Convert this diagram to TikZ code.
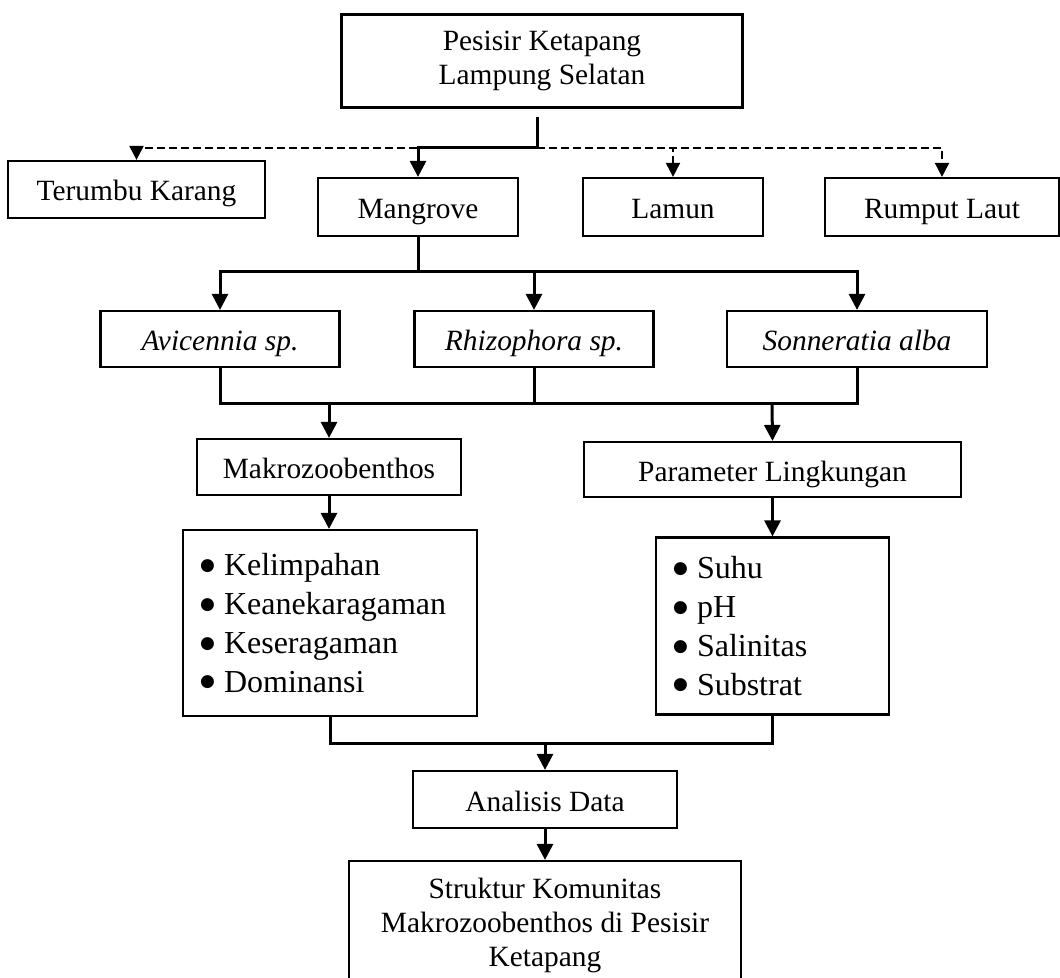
\documentclass[tikz,border=0pt]{standalone}
\usepackage{fontspec}
\setmainfont{Liberation Serif}
\newfontfamily\dejavu{DejaVu Sans}
\usetikzlibrary{arrows.meta, positioning, calc}
\newcommand{\itm}[1]{\makebox[12pt][l]{\raisebox{2.6pt}{\dejavu\fontsize{8.5}{8.5}\selectfont ●}}#1}

\begin{document}
\begin{tikzpicture}[x=0.5pt, y=-0.5pt,
      box/.style={draw, line width=1.1pt, inner sep=0pt, align=center,
                  font=\fontsize{14.7}{17}\selectfont},
      tag/.style={box, text height=12pt, text depth=0.5pt},
      listbox/.style={box, align=left, inner xsep=8.5pt,
                      font=\fontsize{16}{19.4}\selectfont},
      link/.style={line width=1.5pt},
      arrowlink/.style={link, -{Triangle[length=8pt, width=8pt]}},
      dashlink/.style={line width=1pt, dash pattern=on 4pt off 2pt,
                       -{Triangle[length=7pt, width=7pt]}}]
    \useasboundingbox (0,0) rectangle (1060,978);
    \clip (0,0) rectangle (1060,978);
    \node[box, minimum width=200.5pt, minimum height=46.5pt] (top) at (542,61)
      {Pesisir Ketapang\\Lampung Selatan};
    \node[tag, minimum width=128.5pt, minimum height=28.5pt] (terumbu) at (136.5,189.5) {Terumbu Karang};
    \node[tag, minimum width=100pt, minimum height=29pt] (mangrove) at (418,207) {Mangrove};
    \node[tag, minimum width=90pt, minimum height=29pt] (lamun) at (673,207) {Lamun};
    \node[tag, minimum width=117pt, minimum height=29pt] (rumput) at (942,207) {Rumput Laut};
    \node[tag, minimum width=119.5pt, minimum height=28pt] (avicennia) at (220,339) {\itshape Avicennia sp.};
    \node[tag, minimum width=119.5pt, minimum height=28pt] (rhizophora) at (534,339) {\itshape Rhizophora sp.};
    \node[tag, minimum width=130pt, minimum height=28pt] (sonneratia) at (857,339) {\itshape Sonneratia alba};
    \node[tag, minimum width=132pt, minimum height=28pt] (makro) at (329,467) {Makrozoobenthos};
    \node[tag, minimum width=188.5pt, minimum height=27.5pt] (param) at (772.5,469.5) {Parameter Lingkungan};
    \node[listbox, minimum width=147pt, minimum height=93pt, text width=130pt] (indeks) at (330,623)
      {\itm{Kelimpahan}\\\itm{Keanekaragaman}\\\itm{Keseragaman}\\\itm{Dominansi}};
    \node[listbox, minimum width=116.5pt, minimum height=88.5pt, text width=99.5pt] (fisika) at (772.5,626)
      {\itm{Suhu}\\\itm{pH}\\\itm{Salinitas}\\\itm{Substrat}};
    \node[tag, minimum width=132pt, minimum height=28.5pt] (analisis) at (545,799.5) {Analisis Data};
    \node[box, minimum width=196pt, minimum height=64pt] (hasil) at (545,925)
      {Struktur Komunitas\\Makrozoobenthos di Pesisir\\Ketapang};
    \coordinate (stem) at (537,117);
    \coordinate (split) at (537,148);
    \coordinate (msplit) at (418,272);
    \coordinate (mergeL) at (329,404);
    \coordinate (mergeR) at (772,404);
    \coordinate (lmerge) at (545,743);
    \draw[dashlink] (split) -| (terumbu.north);
    \draw[dashlink] (split) -| (lamun.north);
    \draw[dashlink] (split) -| (rumput.north);
    \draw[link] (stem) -- (split);
    \draw[arrowlink] (split) -| (mangrove.north);
    \draw[link] (mangrove.south) -- (msplit);
    \draw[arrowlink] (msplit) -| (avicennia.north);
    \draw[arrowlink] (msplit) -| (rhizophora.north);
    \draw[arrowlink] (msplit) -| (sonneratia.north);
    \draw[link] (avicennia.south) |- (mergeL) -- (mergeR) -| (sonneratia.south);
    \draw[link] (rhizophora.south) -- (rhizophora.south |- mergeL);
    \draw[arrowlink] (mergeL) -- (makro.north);
    \draw[arrowlink] (mergeR) -- (param.north);
    \draw[arrowlink] (makro.south) -- (makro.south |- indeks.north);
    \draw[arrowlink] (param.south) -- (param.south |- fisika.north);
    \draw[link] (indeks.south) |- (lmerge) -| (fisika.south);
    \draw[arrowlink] (lmerge) -- (analisis.north);
    \draw[arrowlink] (analisis.south) -- (hasil.north);
  \end{tikzpicture}
\end{document}
